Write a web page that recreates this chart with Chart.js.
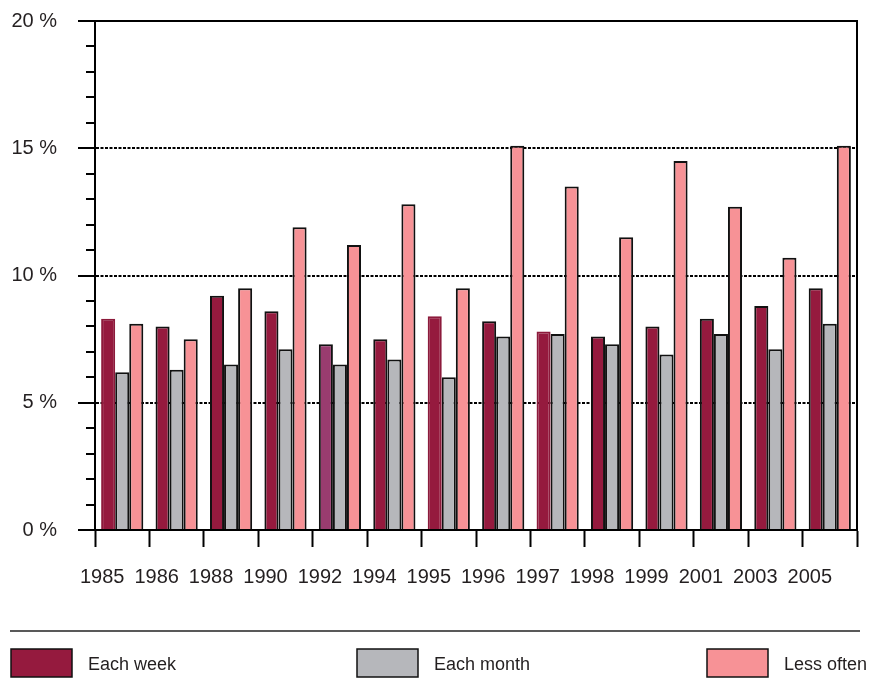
<!DOCTYPE html>
<html><head><meta charset="utf-8">
<script src="https://cdn.jsdelivr.net/npm/chart.js@4/dist/chart.umd.min.js"></script>
<style>html,body{margin:0;padding:0;background:#fff}#wrap{width:871px;height:688px;position:relative}</style>
</head><body><div id="wrap"><canvas id="c" width="871" height="688"></canvas></div>
<script>
const years = ['1985','1986','1988','1990','1992','1994','1995','1996','1997','1998','1999','2001','2003','2005'];
const eachWeek  = [8.3, 8.0, 9.2, 8.6, 7.3, 7.5, 8.4, 8.2, 7.8, 7.6, 8.0, 8.3, 8.8, 9.5];
const eachMonth = [6.2, 6.3, 6.5, 7.1, 6.5, 6.7, 6.0, 7.6, 7.7, 7.3, 6.9, 7.7, 7.1, 8.1];
const lessOften = [8.1, 7.5, 9.5, 11.9, 11.2, 12.8, 9.5, 15.1, 13.5, 11.5, 14.5, 12.7, 10.7, 15.1];
const seriesNames = ['Each week', 'Each month', 'Less often'];
const yMin = 0, yMax = 20, yMajorStep = 5, yMinorStep = 1;

const C_WEEK = '#951a3e', C_WEEK_ALT = '#993c6f', C_MONTH = '#b6b7bb', C_LESS = '#f79296';
const noOutline = ['1985','1995','1997'];
const altColour = ['1992'];
const FONT = "'Liberation Sans', Arial, sans-serif";
const TXT = '#231f20';

const minorTicks = {
  id: 'minorTicks',
  afterDraw(chart) {
    const y = chart.scales.y, ctx = chart.ctx, left = chart.chartArea.left;
    ctx.save();
    ctx.strokeStyle = '#000'; ctx.lineWidth = 2;
    for (let v = yMin; v <= yMax; v += yMinorStep) {
      if (v % yMajorStep === 0) continue;
      const py = Math.round(y.getPixelForValue(v));
      ctx.beginPath(); ctx.moveTo(left - 9, py); ctx.lineTo(left, py); ctx.stroke();
    }
    ctx.restore();
  }
};

const legendPlugin = {
  id: 'customLegend',
  afterDraw(chart) {
    const ctx = chart.ctx;
    ctx.save();
    ctx.strokeStyle = '#222'; ctx.lineWidth = 1.5;
    ctx.beginPath(); ctx.moveTo(10, 631); ctx.lineTo(860, 631); ctx.stroke();
    const xs = [11, 357, 707];
    const fills = [C_WEEK, C_MONTH, C_LESS];
    chart.data.datasets.forEach((ds, i) => {
      ctx.fillStyle = fills[i];
      ctx.fillRect(xs[i], 649, 61, 28);
      ctx.strokeStyle = '#111'; ctx.lineWidth = 1.5;
      ctx.strokeRect(xs[i], 649, 61, 28);
      ctx.fillStyle = TXT;
      ctx.font = '18px ' + FONT;
      ctx.textBaseline = 'middle';
      ctx.textAlign = 'left';
      ctx.fillText(ds.label, xs[i] + 77, 665);
    });
    ctx.restore();
  }
};

new Chart(document.getElementById('c'), {
  type: 'bar',
  data: {
    labels: years,
    datasets: [
      { label: seriesNames[0], data: eachWeek,
        backgroundColor: years.map(y => altColour.includes(y) ? C_WEEK_ALT : C_WEEK),
        borderColor: years.map(y => noOutline.includes(y) ? '#8c1a3b' : '#111'),
        borderWidth: 2 },
      { label: seriesNames[1], data: eachMonth, backgroundColor: C_MONTH, borderColor: '#111', borderWidth: 2 },
      { label: seriesNames[2], data: lessOften, backgroundColor: C_LESS, borderColor: '#111', borderWidth: 2 }
    ]
  },
  options: {
    responsive: false,
    animation: false,
    devicePixelRatio: 1,
    layout: { padding: { top: 21, right: 14, left: 0, bottom: 0 } },
    plugins: { legend: { display: false }, tooltip: { enabled: false } },
    datasets: { bar: { categoryPercentage: 0.775, barPercentage: 1 } },
    scales: {
      x: {
        type: 'category',
        offset: true,
        grid: { offset: true, drawOnChartArea: false, tickLength: 17, color: '#000', tickWidth: 2 },
        border: { color: '#000', width: 2 },
        ticks: { color: TXT, font: { family: FONT, size: 20 }, padding: 18, labelOffset: -20, maxRotation: 0, autoSkip: false },
        afterFit(s) { s.height = 158; s.paddingLeft = 0; s.paddingRight = 0; }
      },
      y: {
        min: yMin, max: yMax,
        ticks: { stepSize: yMajorStep, color: TXT, font: { family: FONT, size: 20 }, padding: 21,
                 callback: v => v + ' %' },
        grid: {
          tickLength: 17, tickWidth: 2, tickColor: '#000', lineWidth: 2,
          color: ctx => (ctx.tick && ctx.tick.value === yMin) ? 'rgba(0,0,0,0)' : '#000'
        },
        border: { color: '#000', width: 2,
                  dash: ctx => (ctx.tick && ctx.tick.value === yMax) ? [] : [3, 1.5] },
        afterFit(s) { s.width = 95; s.paddingTop = 0; s.paddingBottom = 0; }
      },
      yR: {
        position: 'right', min: yMin, max: yMax,
        ticks: { display: false },
        grid: { display: false, drawTicks: false },
        border: { display: true, color: '#000', width: 2 },
        afterFit(s) { s.width = 0; s.paddingTop = 0; s.paddingBottom = 0; }
      }
    }
  },
  plugins: [minorTicks, legendPlugin]
});
</script>
</body></html>
